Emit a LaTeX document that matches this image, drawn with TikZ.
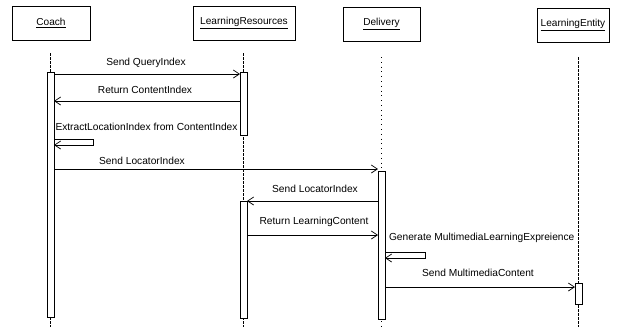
\documentclass[tikz,border=0pt]{standalone}
\usepackage{fontspec}
\setmainfont{Liberation Sans}
\usetikzlibrary{arrows.meta}
\begin{document}
\begin{tikzpicture}[x=1pt,y=-1pt,
  every node/.style={inner sep=0pt,outer sep=0pt},
  head/.style={draw,line width=0.75pt,minimum width=#1,minimum height=34pt,font=\fontsize{10.1}{12}\selectfont},
  lifeline/.style={line width=0.55pt,dash pattern=on 2.5pt off 1.5pt},
  dotline/.style={line width=0.6pt,dash pattern=on 0.8pt off 4pt},
  bar/.style={draw,fill=white,line width=0.75pt,minimum width=7pt,minimum height=#1},
  msg/.style={line width=0.75pt,-{Straight Barb[length=6pt,width=8pt,line width=0.75pt]}},
  lbl/.style={font=\fontsize{10.2}{12}\selectfont,anchor=base}]
\useasboundingbox (0,0) rectangle (621,327);

% participant heads
\node[head=78pt] (coach) at (51,23) {\underline{Coach}};
\node[head=102pt] (lres) at (244,23) {\underline{LearningResources}};
\node[head=77pt] (deliv) at (381.5,24) {\underline{Delivery}};
\node[head=72pt] (lent) at (573,25) {\underline{LearningEntity}};

% lifelines
\coordinate (coachEnd) at (50.5,327);
\coordinate (lresEnd) at (243.5,327);
\coordinate (delivEnd) at (381.5,327);
\coordinate (lentEnd) at (578.5,327);
\draw[lifeline] (50.5,53) -- (coachEnd);
\draw[lifeline] (243.5,53) -- (lresEnd);
\draw[dotline] (381.5,57) -- (delivEnd);
\draw[lifeline] (578.5,57) -- (lentEnd);

% activation bars
\node[bar=245pt] (cb) at (50.5,194.5) {};
\node[bar=63pt] (rb1) at (243.5,103.5) {};
\node[bar=117pt] (rb2) at (243.5,259.5) {};
\node[bar=148pt] (db) at (381.5,245) {};
\node[bar=21pt] (eb) at (578.5,293.5) {};

% messages
\draw[msg] (cb.east |- 0,74) -- (rb1.west |- 0,74);
\node[lbl] (m1) at (146,65.5) {Send QueryIndex};

\draw[msg] (rb1.west |- 0,101) -- (cb.east |- 0,101);
\node[lbl] (m2) at (145,93.5) {Return ContentIndex};

\coordinate (s1a) at (93,139);
\coordinate (s1b) at (93,145);
\draw[msg] (cb.east |- s1a) -- (s1a) -- (s1b) -- (cb.east |- s1b);
\node[lbl,anchor=base west] (m3) at (55.5,130.5) {ExtractLocationIndex from ContentIndex};

\draw[msg] (cb.east |- 0,169) -- (db.west |- 0,169);
\node[lbl] (m4) at (142,164) {Send LocatorIndex};

\draw[msg] (db.west |- 0,201) -- (rb2.east |- 0,201);
\node[lbl] (m5) at (315,192) {Send LocatorIndex};

\draw[msg] (rb2.east |- 0,235) -- (db.west |- 0,235);
\node[lbl] (m6) at (314,224.5) {Return LearningContent};

\coordinate (s2a) at (425,252);
\coordinate (s2b) at (425,258);
\draw[msg] (db.east |- s2a) -- (s2a) -- (s2b) -- (db.east |- s2b);
\node[lbl,anchor=base west] (m7) at (389,240.5) {Generate MultimediaLearningExpreience};

\draw[msg] (db.east |- 0,287) -- (eb.west |- 0,287);
\node[lbl] (m8) at (478,276.5) {Send MultimediaContent};
\end{tikzpicture}
\end{document}
